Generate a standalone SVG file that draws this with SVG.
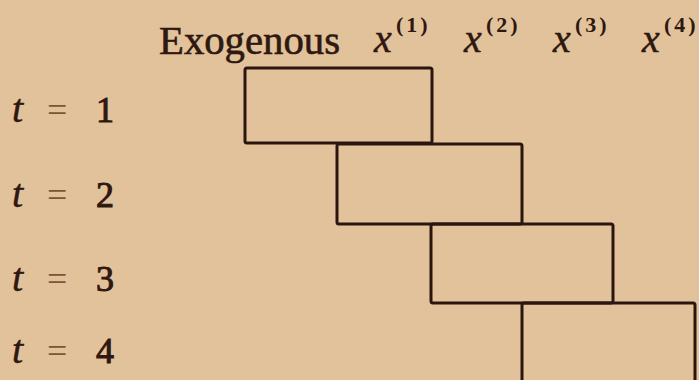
<svg xmlns="http://www.w3.org/2000/svg" width="699" height="380" viewBox="0 0 699 380">
<style>
.bg{fill:#E2C29A}
.box{fill:none;stroke:#2B1510;stroke-width:3;stroke-linejoin:round}
.hd{font-family:"Liberation Serif","DejaVu Serif",serif;font-size:40px;fill:#2E1810;stroke:#2E1810;stroke-width:0.6}
.var{font-family:"Liberation Serif","DejaVu Serif",serif;font-style:italic;font-size:40px;fill:#2E1810;stroke:#2E1810;stroke-width:0.5}
.sup{font-family:"Liberation Serif","DejaVu Serif",serif;font-weight:bold;font-size:22px;letter-spacing:3px;fill:#2E1810}
.eq{font-family:"Liberation Serif","DejaVu Serif",serif;font-size:36px;fill:#7A5538}
.num{font-family:"Liberation Serif","DejaVu Serif",serif;font-size:36px;fill:#2E1810;stroke:#2E1810;stroke-width:1}
</style>
<rect class="bg" x="0" y="0" width="699" height="380"/>
<g id="header">
<text class="hd" x="159" y="54" textLength="181" lengthAdjust="spacingAndGlyphs">Exogenous</text>
<text class="var" x="374" y="52">x</text><text class="sup" x="396" y="32">(1)</text>
<text class="var" x="464" y="52">x</text><text class="sup" x="486" y="32">(2)</text>
<text class="var" x="553" y="52">x</text><text class="sup" x="575" y="32">(3)</text>
<text class="var" x="642" y="52">x</text><text class="sup" x="664" y="32">(4)</text>
</g>
<g id="rows">
<text class="var" x="12" y="122">t</text><text class="eq" x="47" y="122">=</text><text class="num" x="96" y="122">1</text>
<text class="var" x="12" y="207">t</text><text class="eq" x="47" y="207">=</text><text class="num" x="96" y="207">2</text>
<text class="var" x="12" y="291">t</text><text class="eq" x="47" y="291">=</text><text class="num" x="96" y="291">3</text>
<text class="var" x="12" y="363">t</text><text class="eq" x="47" y="363">=</text><text class="num" x="96" y="363">4</text>
</g>
<g id="box1"><rect class="box" x="245" y="68" width="187" height="75" rx="2"/></g>
<g id="box2"><rect class="box" x="337" y="144" width="185" height="80" rx="2"/></g>
<g id="box3"><rect class="box" x="431" y="224" width="182" height="79" rx="2"/></g>
<g id="box4"><rect class="box" x="522" y="303" width="173" height="100" rx="2"/></g>
<g id="connectors"></g>
</svg>
